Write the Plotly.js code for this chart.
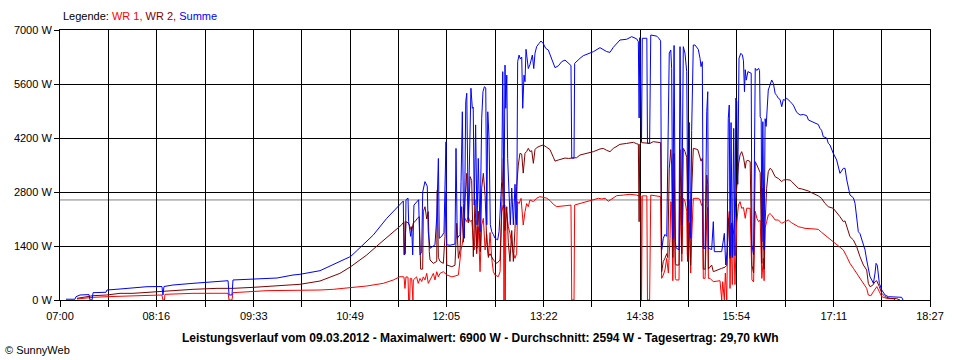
<!DOCTYPE html>
<html><head><meta charset="utf-8">
<script src="https://cdn.plot.ly/plotly-3.0.1.min.js"></script>
<style>html,body{margin:0;padding:0;background:#fff}#chart{width:960px;height:360px}</style>
</head><body><div id="chart"></div>
<script>
// Time axis labels (HH:MM) and y tick values
const timeLabels = ["07:00","08:16","09:33","10:49","12:05","13:22","14:38","15:54","17:11","18:27"];
const yTickValues = [0,1400,2800,4200,5600,7000];
const average = 2594; // Durchschnitt (W)

// Samples: [minutes after 07:00, watts]
const summePts = [
[4.7,20],[11.8,20],[12.6,85],[15.8,130],[22.9,140],[23.7,0],[25.3,0],[26.1,190],[36.3,200],[37.1,259],
[47.4,285],[57.6,320],[68.7,345],[80.5,350],[81.3,130],[82.1,350],[89.2,389],[105,432],[120.8,467],[132.7,500],
[133.5,130],[135.8,130],[136.6,519],[152.4,536],[171.4,570],[184,648],[189.5,666],[205.3,760],[221,1000],[229.6,1130],
[236.9,1357],[247.4,1685],[258,2117],[267.5,2450],[271.1,2567],[271.6,1170],[272.7,1200],[273.2,2600],[274.8,2640],[275.3,2030],
[276.9,1650],[277.7,1900],[278.5,1170],[279.5,2460],[281.6,2540],[283.2,2600],[284.3,1170],[285.6,1250],[286.4,2800],[288.2,3070],
[290,2950],[290.8,1770],[292.2,1340],[294.5,1400],[296.1,1430],[297.5,2150],[298.8,3670],[299.5,1600],[301.4,1650],[303.2,1750],
[304.3,3500],[304.8,4100],[305.4,1430],[308,1420],[311.9,1450],[312.7,3930],[313.7,1600],[315.9,1700],[316.7,3070],[317.7,4880],
[318.5,2500],[319.3,1600],[320.4,5140],[321.2,5360],[322.4,2100],[323.8,5140],[324.5,5490],[325.6,4970],[326.3,5000],[327.1,2460],
[328.2,4540],[329.3,1950],[330.3,3670],[331.7,1770],[333,4710],[334,5400],[335.1,5530],[336.2,5500],[337,1950],[337.8,4880],
[338.8,4190],[339.8,1950],[340.9,1770],[342.2,1700],[343.5,1600],[345.6,1560],[346.7,1770],[348.8,3070],[349.6,5920],[350.6,2380],
[351.4,6090],[352,4970],[352.8,5830],[353.5,3670],[354.6,2800],[355.6,1950],[356.7,2900],[358,1950],[359.3,3000],[360.6,1950],
[361.4,6180],[362.5,6350],[363.5,6250],[364.6,6300],[365.4,4970],[366.4,5830],[367.2,5660],[368,6500],[369.8,6000],[371.1,6100],
[373,6350],[374.1,6000],[375.1,6400],[376.4,6570],[378.2,6650],[379.8,6715],[381.6,6650],[383.5,6525],[385.6,6480],[388.3,6266],
[390.9,6024],[393.5,6070],[396.2,6180],[398.8,6220],[401.4,6150],[403.5,6080],[404.1,3680],[405.9,3680],[406.4,6136],[408,6196],
[410.6,6266],[413.2,6334],[418.5,6396],[421.2,6438],[426.4,6542],[429,6500],[431.7,6440],[434.3,6420],[436.9,6550],[442.2,6741],
[447.5,6760],[451.4,6827],[455.4,6770],[456.7,6697],[457.3,4720],[457.8,6800],[459.2,4100],[459.8,6785],[463.4,6785],[463.9,4062],
[465.6,4062],[466.5,6870],[471.3,6840],[472.5,6800],[474.3,6720],[475.1,1300],[476.4,1600],[477.7,1700],[479.1,1650],[479.9,3500],
[481.1,6400],[482.3,6480],[483,6000],[483.9,1600],[484.9,6600],[485.9,1512],[486.5,1350],[488.8,1300],[489.6,6568],[491,1944],
[492.2,6568],[493.5,6400],[494.9,5920],[495.3,4192],[495.8,2030],[496.9,4600],[498,1600],[498.8,4400],[500.1,6611],[501.4,6611],
[504,6500],[505.4,6266],[506.2,6050],[507.2,6180],[508,1340],[509.4,1340],[510.7,4883],[511.5,5400],[512,1340],[514.6,1310],
[515.9,2030],[516.7,1253],[522.5,1253],[524.6,1728],[525.7,907],[526.8,1250],[527.7,4710],[528.5,5056],[529.1,1150],[529.9,4600],
[530.9,1100],[532,4450],[533,1150],[533.6,5229],[534.4,5150],[535.2,3000],[536.2,6266],[537.6,6396],[538.9,6350],[539.7,6200],
[540.5,5400],[541.1,5970],[541.9,5700],[543.2,5920],[545.8,5880],[546.4,1426],[547.7,1167],[549,6006],[550.3,5950],[551.6,6006],
[552.4,5950],[552.9,4750],[553.7,4700],[554.2,1512],[555,4623],[556,1300],[556.8,4700],[557.6,4500],[558.4,4883],[559.3,5444],
[560.7,5574],[562,5704],[563.3,5620],[564.7,5358],[566,5300],[567.3,5229],[568.6,5200],[569.9,5012],[571.2,5200],[572.5,5180],
[573.8,5229],[575.1,5200],[576.5,5150],[577.8,5100],[579.1,5050],[581.7,4866],[584.4,4796],[587,4810],[589.7,4778],[591,4667],
[593.6,4630],[596.2,4580],[598.8,4550],[600.1,4450],[601.4,4400],[602.7,4235],[605.4,4200],[606.7,4062],[608,4019],[610.6,3803],
[613.3,3630],[615.9,3284],[618.6,3414],[619.9,3414],[621.3,3111],[623.8,2722],[626.5,2650],[627.8,2507],[629.1,2160],[630.4,1771],
[631.7,1720],[633.1,1556],[634.4,1383],[635.7,1300],[637,1037],[638.3,778],[639.6,605],[641,520],[642.3,432],[643.6,700],
[644.4,950],[645.4,900],[647,432],[648.9,259],[651.5,130],[654.1,86],[662,75],[664.6,70],[665.7,0]
];

const wr2Pts = [
[13.4,43],[26.1,112],[37.1,130],[47.4,173],[57.6,173],[68.7,199],[84.5,242],[105,277],[124,302],[136.6,302],
[152.4,328],[168.2,363],[184,389],[189.5,407],[205.3,492],[221,690],[229.6,864],[242.2,1167],[252.7,1469],[263.2,1771],
[267.5,1901],[269.8,1950],[271.6,2030],[272.1,1167],[273.2,2030],[275,2000],[276.4,1900],[277.7,1780],[279,2000],[280.3,2030],
[282.2,2117],[283.7,2160],[284.8,800],[286.4,800],[286.9,2290],[288.2,2419],[289.6,2100],[290.8,2290],[291.6,1253],[292.2,1037],
[294.8,950],[297.5,1000],[297.9,2852],[298.8,1100],[300.1,1000],[302.7,950],[304,1640],[304.8,2808],[305.4,907],[309.4,864],
[311.9,900],[313.3,1988],[314.6,1080],[315.9,1300],[317.2,2419],[318.5,1500],[319.8,2600],[321.2,3284],[322.4,2000],[323.8,3200],
[325.1,3100],[326.4,1123],[327.7,2600],[329.1,1200],[330.3,2300],[331.9,1250],[333,2900],[334.3,3284],[335.7,2700],[337,1500],
[338.3,1123],[339.6,1200],[342.2,1037],[345,950],[347.5,1037],[348.8,2419],[350.1,3680],[351.4,1800],[352.8,2419],[354,1500],
[355.3,1000],[356.7,1800],[358,1000],[359.3,1850],[360.6,2938],[361.9,3500],[363.2,3803],[364.6,3780],[365.8,3290],[367.2,3803],
[368.5,3850],[369.8,3932],[371.1,3850],[372.5,3870],[373.8,3544],[375.1,3900],[376.4,3950],[379,3990],[381.6,4019],[384.3,3960],
[386.9,3900],[389.6,3700],[390.9,3600],[393.5,3630],[396.2,3660],[398.8,3680],[401.4,3670],[404.1,3673],[408,3690],[410.6,3759],
[415.9,3800],[421.2,3846],[426.4,3915],[429,3930],[431.7,3880],[434.3,3846],[436.9,3930],[442.2,4036],[447.5,4060],[452.8,4088],
[455.4,4050],[456.7,4040],[457.3,2030],[457.8,4040],[459.2,4080],[463.9,4062],[465.9,4060],[468.5,4105],[472.5,4100],[474.3,4080],
[475.1,734],[476.4,1000],[477.7,1080],[479.1,1200],[479.9,1100],[481.1,3400],[482.3,3900],[483,3500],[483.9,1100],[484.9,3800],
[485.9,950],[486.5,907],[488.8,907],[489.6,3900],[491,1200],[492.2,3932],[493.5,3850],[494.9,3700],[495.3,3000],[495.8,1000],
[496.9,2000],[498,900],[498.8,2808],[500.1,3932],[503.6,3900],[505.4,3673],[506.2,3600],[507.2,3673],[508,800],[509.4,800],
[510.7,3241],[511.5,3000],[512,800],[514.6,907],[515.9,734],[522.5,821],[525.1,850],[526.5,900],[527.7,2117],[529.1,1080],
[530.4,2000],[531.7,1700],[533,2290],[534.4,3068],[535.7,3500],[537,3759],[538.3,3846],[539.7,3700],[541.1,3414],[541.9,3600],
[543.2,3620],[545,3587],[546.4,900],[547.7,700],[549,3587],[550.3,3500],[551.6,3414],[552.9,3300],[554.2,950],[555,2900],
[556,800],[556.8,2000],[558,2895],[559.3,3327],[560.7,3414],[562,3380],[564.7,3197],[567.3,3150],[569.9,3068],[571.2,3110],
[573.8,3120],[576.5,3110],[577.8,3070],[580.4,2981],[583.1,2895],[585.7,2880],[588.3,2860],[591,2826],[593.6,2780],[596.2,2740],
[598.8,2700],[601.4,2636],[604,2507],[606.7,2419],[610.6,2377],[615.9,2160],[618.6,2030],[619.9,2050],[621.3,1901],[623.8,1642],
[626.5,1556],[629.1,1383],[631.7,1123],[634.4,907],[637,778],[638.3,432],[639.6,346],[641.7,380],[643.6,475],[644.9,500],
[647,346],[648.9,173],[651.5,86],[655.4,43],[660.7,35],[663.3,0]
];

const wr1Pts = [
[13.4,26],[26.1,69],[37.1,86],[57.6,112],[80.5,130],[81.3,0],[82.5,0],[82.9,147],[105,173],[132.7,175],
[133.5,0],[135.8,0],[136.6,190],[163.5,242],[189.5,242],[205.3,259],[215.8,277],[229,320],[242.2,363],[255.3,432],
[263.2,519],[268.5,605],[271.6,600],[272.4,300],[273.2,600],[274.8,590],[275.3,0],[276.1,0],[276.6,560],[277.7,560],
[278.2,0],[278.7,0],[279,519],[281.6,600],[282.9,432],[284.3,560],[285.6,480],[286.9,600],[288.2,520],[289.6,691],
[290.8,432],[292.2,540],[293.5,600],[294.8,691],[296.1,520],[297.5,734],[298.8,600],[300.1,691],[302.7,734],[305.4,650],
[309.4,600],[311.9,620],[314.6,650],[316.7,1300],[318.5,1598],[319.8,2117],[321.2,2030],[322.4,2160],[323.8,2030],[325.1,2074],
[326.4,1560],[327.1,1300],[328.2,2074],[329.3,1340],[330.3,1900],[331.7,734],[333,1944],[334.3,2117],[335.7,1300],[337,1700],
[338.3,1100],[339.6,1750],[340.9,1080],[342.2,734],[343.5,648],[346.1,605],[347.5,734],[348.8,2290],[350.1,2463],[350.6,0],
[351.2,2463],[351.6,0],[352.2,2400],[354,1900],[355.3,1730],[356.7,1426],[358,1210],[359.3,1080],[360.6,1210],[361.4,2550],
[362.5,2500],[364.1,2636],[365.8,1944],[367.2,2290],[368.5,2500],[369.8,2420],[371.1,2593],[373.8,2550],[376.4,2640],[379,2679],
[381.6,2660],[384.3,2640],[386.9,2580],[389.6,2480],[392.2,2420],[396.2,2440],[401.4,2450],[403.5,2460],[404.1,0],[405.9,0],
[406.4,2463],[410.6,2500],[415.9,2567],[421.2,2600],[425.1,2636],[427.8,2620],[430.4,2636],[433,2560],[435.7,2620],[439.6,2705],
[444.8,2720],[450.1,2740],[455.4,2720],[456.7,2700],[458.8,2700],[459.2,0],[459.8,2700],[463.4,2700],[463.9,0],[465.6,0],
[466.5,2720],[473.8,2690],[474.3,2680],[475.1,562],[476.4,648],[477.7,780],[479.1,1080],[480.4,700],[481.7,1598],[482.3,2550],
[483,2500],[483.9,500],[484.9,2800],[485.9,560],[486.5,519],[488.8,519],[489.6,2700],[491,1000],[492.2,2636],[493.5,2560],
[494.9,2300],[495.3,1200],[495.8,1000],[496.9,2600],[498,700],[498.8,1600],[500.1,2636],[504,2636],[505.4,2600],[506.7,2450],
[507.2,2500],[508,560],[509.4,562],[510.7,2117],[511.5,2400],[512,560],[513.3,562],[515.9,475],[521.2,500],[522.5,0],
[523.3,475],[524.6,0],[525.4,700],[526.5,0],[527.3,1944],[528.5,2300],[529.1,300],[529.9,1944],[530.9,400],[532,1700],
[533,400],[534.4,2000],[535.7,2463],[537,2550],[538.3,2377],[539.7,2400],[541.1,2117],[542.3,2380],[545,2377],[546.4,520],
[547.7,470],[549,2300],[550.3,2117],[551.6,2030],[552.9,2070],[554.2,560],[555.4,1080],[556,500],[556.8,1870],[558,2030],
[559.3,2204],[560.7,2240],[562,2200],[564.7,2074],[567.3,2074],[569.9,1988],[572.5,2030],[575.1,2074],[577.8,2000],[580.4,1944],
[583.1,1900],[585.7,1880],[588.3,1858],[596.2,1840],[598.8,1830],[601.4,1754],[604,1685],[606.7,1616],[610.6,1512],[614.6,1383],
[618.6,1296],[621.3,1123],[623.8,950],[626.5,821],[629.1,691],[631.7,562],[634.4,432],[637,302],[638.3,130],[640.3,110],
[642.3,216],[645,346],[647,216],[648.9,86],[652.9,40],[658.2,30],[659.6,0]
];

// helpers
const toMin = s => { const [h,m] = s.split(':').map(Number); return (h-7)*60 + m; };
const labelMins = timeLabels.map(toMin);
const gridVals = [], gridText = [];
labelMins.forEach((m,i) => {
  gridVals.push(m); gridText.push(timeLabels[i]);
  if (i < labelMins.length-1) { gridVals.push((m + labelMins[i+1]) / 2); gridText.push(''); }
});
const xs = a => a.map(p => p[0]);
const ys = a => a.map(p => p[1]);

const FONT = 'Liberation Sans, Arial, sans-serif';
const traces = [
  {x: xs(wr1Pts), y: ys(wr1Pts), mode:'lines', line:{color:'#ff0000', width:1}, name:'WR 1'},
  {x: xs(wr2Pts), y: ys(wr2Pts), mode:'lines', line:{color:'#800000', width:1}, name:'WR 2'},
  {x: xs(summePts), y: ys(summePts), mode:'lines', line:{color:'#0000ff', width:1}, name:'Summe'}
];

const layout = {
  width:960, height:360,
  margin:{l:60, r:30, t:30, b:60, pad:0},
  paper_bgcolor:'#fff', plot_bgcolor:'#fff',
  showlegend:false, hovermode:false,
  font:{family:FONT, size:11, color:'#000'},
  xaxis:{range:[0, labelMins[labelMins.length-1]], tickmode:'array', tickvals:gridVals, ticktext:gridText,
    showgrid:true, gridcolor:'#000', gridwidth:1, zeroline:false, showline:true, mirror:true, linecolor:'#000', linewidth:1,
    ticks:'outside', ticklen:6, tickcolor:'#000', tickwidth:1, tickfont:{family:FONT, size:11, color:'#000'}},
  yaxis:{range:[0,7000], tickmode:'array', tickvals:yTickValues, ticktext:yTickValues.map(v => v + ' W'),
    showgrid:true, gridcolor:'#000', gridwidth:1, zeroline:false, showline:true, mirror:true, linecolor:'#000', linewidth:1,
    ticks:'outside', ticklen:5, tickcolor:'#000', tickwidth:1, tickfont:{family:FONT, size:11, color:'#000'}},
  shapes:[{type:'line', layer:'between', xref:'paper', x0:0, x1:1, yref:'y', y0:average, y1:average, line:{color:'#808080', width:1}}],
  annotations:[
    {xref:'paper', yref:'paper', x:0.001, y:1.052, xanchor:'left', yanchor:'middle', showarrow:false,
     text:'Legende: <span style="color:#ff0000">WR 1,</span> <span style="color:#800000">WR 2,</span> <span style="color:#0000ff">Summe</span>',
     font:{family:FONT, size:11, color:'#000'}},
    {xref:'paper', yref:'paper', x:0.4828, y:-0.141, xanchor:'center', yanchor:'middle', showarrow:false,
     text:'<b>Leistungsverlauf vom 09.03.2012 - Maximalwert: 6900 W - Durchschnitt: ' + average + ' W - Tagesertrag: 29,70 kWh</b>',
     font:{family:FONT, size:12, color:'#000'}},
    {xref:'paper', yref:'paper', x:-0.0655, y:-0.185, xanchor:'left', yanchor:'middle', showarrow:false,
     text:'© SunnyWeb', font:{family:FONT, size:11, color:'#000'}}
  ]
};
Plotly.newPlot('chart', traces, layout, {staticPlot:true, displayModeBar:false});
</script></body></html>
